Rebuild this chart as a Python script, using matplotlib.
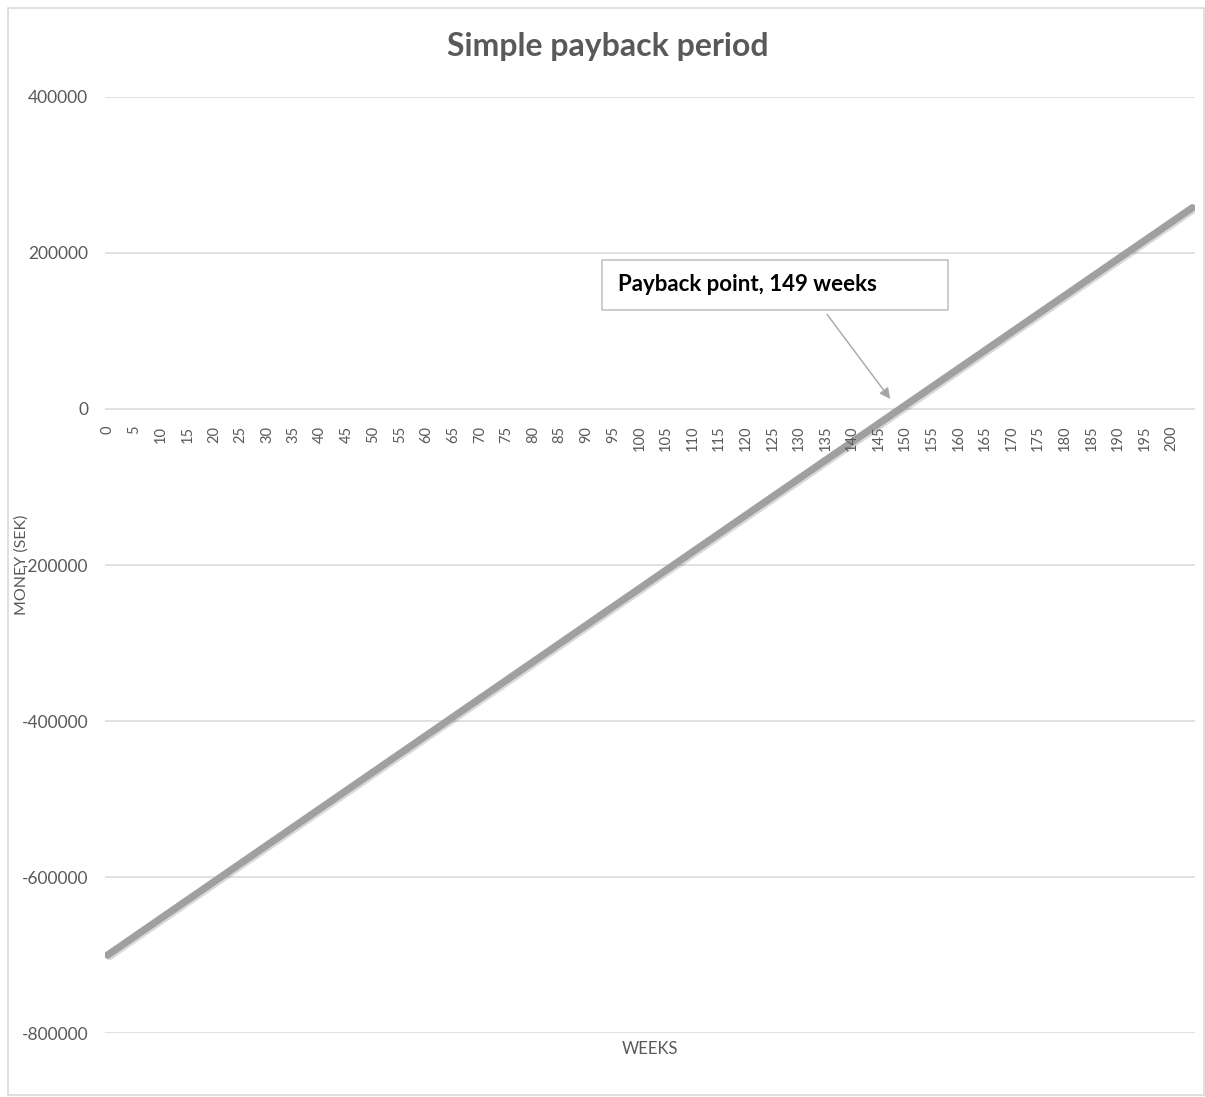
import matplotlib
import matplotlib.patheffects as pe
from matplotlib import pyplot as plt
from matplotlib.patches import Rectangle

matplotlib.use("Agg")

# data (straight line, payback at week 149)
weeks = [0, 149, 204]
money = [-700000, 0, 258000]
payback_week = 149
x_ticks = list(range(0, 205, 5))
y_ticks = [-800000, -600000, -400000, -200000, 0, 200000, 400000]

plt.rcParams["font.family"] = ["Lato", "DejaVu Sans"]
grey_text = "#595959"
grid_col = "#d9d9d9"

fig = plt.figure(figsize=(12.05, 10.97), dpi=100)
ax = fig.add_axes([0.0871, 0.0583, 0.9046, 0.8533])

for yt in y_ticks:
    ax.axhline(yt, color=grid_col, lw=1.1, zorder=1)

ax.plot(
    weeks,
    money,
    color="#a0a0a0",
    lw=5.2,
    solid_capstyle="round",
    zorder=3,
    path_effects=[
        pe.SimpleLineShadow(offset=(1.2, -1.2), shadow_color="#000000", alpha=0.15),
        pe.Normal(),
    ],
)

ax.set_xlim(-0.5, 204.5)
ax.set_ylim(-800000, 400000)
ax.set_yticks(y_ticks)
ax.set_yticklabels([str(v) for v in y_ticks], color=grey_text, fontsize=12.5)
ax.tick_params(axis="y", length=0, pad=12)
ax.set_xticks([])
for s in ax.spines.values():
    s.set_visible(False)

# category labels sit just under the zero line
for w in x_ticks:
    ax.annotate(
        str(w),
        xy=(w, 0),
        xytext=(0, -12),
        textcoords="offset points",
        rotation=90,
        ha="center",
        va="top",
        fontsize=10.5,
        color=grey_text,
    )

# callout
ax.add_patch(
    Rectangle(
        (0.456, 0.772), 0.317, 0.054,
        transform=ax.transAxes, facecolor="white", edgecolor="#bfbfbf",
        lw=1.1, zorder=5,
    )
)
ax.text(
    0.471, 0.800, "Payback point, 149 weeks",
    transform=ax.transAxes, ha="left", va="center",
    fontsize=16, fontweight="bold", color="black", zorder=6,
)
ax.annotate(
    "",
    xy=(payback_week - 1.5, 10000),
    xytext=(0.661, 0.770),
    textcoords="axes fraction",
    arrowprops=dict(arrowstyle="-|>", color="#a6a6a6", lw=1.0, mutation_scale=16),
    zorder=4,
)

fig.text(0.5046, 0.958, "Simple payback period", ha="center", va="center",
         fontsize=23, fontweight="bold", color=grey_text)
fig.text(0.018, 0.485, "MONEY (SEK)", rotation=90, ha="center", va="center",
         fontsize=11.5, color=grey_text)
fig.text(0.539, 0.044, "WEEKS", ha="center", va="center",
         fontsize=12, color=grey_text)

# chart area border
fig.patches.append(
    Rectangle((8 / 1205, 2 / 1097), 1196 / 1205, 1087 / 1097,
              transform=fig.transFigure, fill=False, edgecolor=grid_col, lw=1.2)
)

fig.savefig("out.png", dpi=100, facecolor="white")
plt.close(fig)
